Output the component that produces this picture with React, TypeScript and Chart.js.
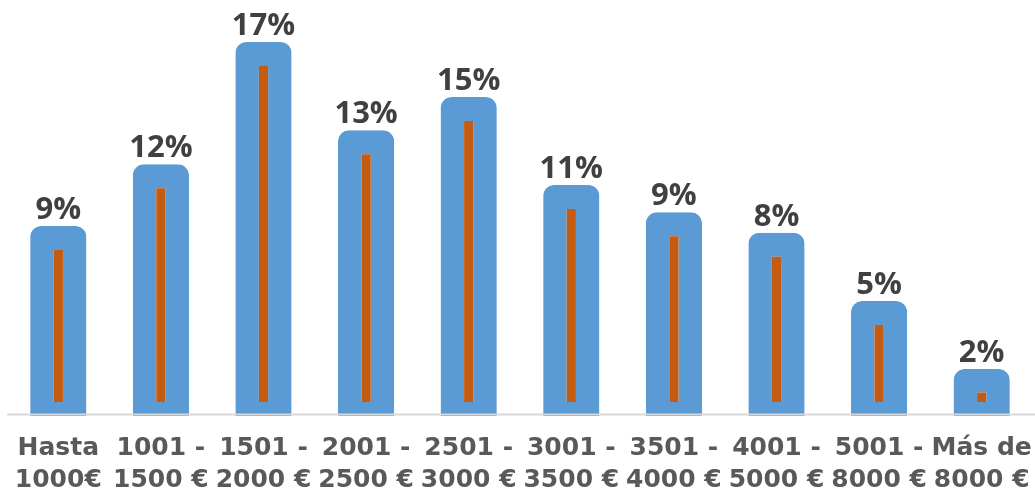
import React, { useEffect, useRef } from "react";
import { Chart, registerables } from "chart.js";

Chart.register(...registerables);

const categories: string[][] = [
  ["Hasta", "1000€"],
  ["1001 -", "1500 €"],
  ["1501 -", "2000 €"],
  ["2001 -", "2500 €"],
  ["2501 -", "3000 €"],
  ["3001 -", "3500 €"],
  ["3501 -", "4000 €"],
  ["4001 -", "5000 €"],
  ["5001 -", "8000 €"],
  ["Más de", "8000 €"],
];

const shares: number[] = [8.76, 11.6, 17.24, 13.17, 14.7, 10.65, 9.39, 8.45, 5.3, 2.17];

const valueLabels = {
  id: "valueLabels",
  afterDatasetsDraw(chart: any) {
    const ctx = chart.ctx;
    const yScale = chart.scales.y;
    const zeroY = yScale.getPixelForValue(0);
    ctx.save();
    ctx.strokeStyle = "#D9D9D9";
    ctx.lineWidth = 2;
    ctx.beginPath();
    ctx.moveTo(chart.chartArea.left, zeroY - 1.5);
    ctx.lineTo(chart.width, zeroY - 1.5);
    ctx.stroke();

    const meta = chart.getDatasetMeta(0);
    ctx.fillStyle = "#404040";
    ctx.font = "bold 31px 'Open Sans'";
    ctx.textAlign = "center";
    ctx.textBaseline = "alphabetic";
    meta.data.forEach((bar: any, i: number) => {
      const v = chart.data.datasets[0].data[i] as number;
      ctx.fillText(`${Math.round(v)}%`, bar.x, bar.y - 7);
    });
    ctx.restore();
  },
};

export default function App() {
  const ref = useRef<HTMLCanvasElement>(null);

  useEffect(() => {
    if (!ref.current) return;
    const chart = new Chart(ref.current, {
      type: "bar",
      data: {
        labels: categories,
        datasets: [
          {
            data: shares,
            backgroundColor: "#C55A11",
            borderColor: "#5B9BD5",
            borderWidth: { top: 24, left: 23.5, right: 23.5, bottom: 14 } as any,
            borderSkipped: false,
            borderRadius: { topLeft: 11, topRight: 11, bottomLeft: 0, bottomRight: 0 },
            barPercentage: 0.548,
            categoryPercentage: 1,
          },
        ],
      },
      options: {
        animation: false,
        responsive: false,
        layout: { padding: { left: 7, right: 2, top: 0, bottom: 0 } },
        plugins: {
          legend: { display: false },
          tooltip: { enabled: false },
        },
        scales: {
          x: {
            grid: { display: false, drawTicks: false },
            border: { display: false },
            ticks: {
              autoSkip: false,
              maxRotation: 0,
              minRotation: 0,
              padding: 16,
              color: "#595959",
              font: { family: "'DejaVu Sans'", weight: "bold", size: 25, lineHeight: 32 / 25 },
            },
            afterFit: (scale: any) => {
              scale.height = 80;
              scale.paddingLeft = 0;
              scale.paddingRight = 0;
            },
          },
          y: {
            display: false,
            min: 0,
            max: 19.17,
          },
        },
      },
      plugins: [valueLabels],
    });
    return () => chart.destroy();
  }, []);

  return (
    <div style={{ position: "absolute", left: 0, top: 0, width: 1035, height: 496, background: "#fff" }}>
      <canvas ref={ref} width={1035} height={496} style={{ display: "block" }} />
    </div>
  );
}
